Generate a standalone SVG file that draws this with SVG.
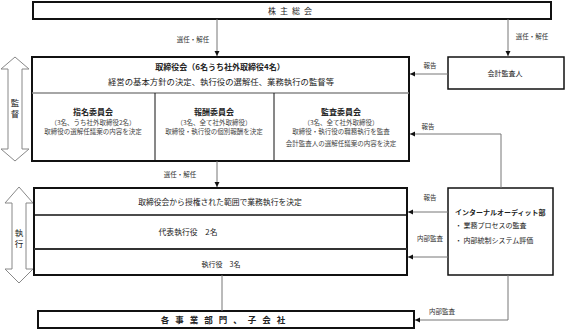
<svg xmlns="http://www.w3.org/2000/svg" width="567" height="331" viewBox="0 0 567 331">
<style>
text{font-family:"Noto Sans CJK JP","Noto Sans",sans-serif;fill:#222;}
.box{fill:#fff;stroke:#111;stroke-width:1.5;}
.thick{fill:#fff;stroke:#111;stroke-width:2;}
.lbl{font-size:6.5px;text-anchor:middle;fill:#333;}
.conn{fill:none;stroke:#777;stroke-width:1;}
.big{fill:#fff;stroke:#888;stroke-width:1;}
.sub{font-size:6.5px;text-anchor:middle;fill:#444;}
.h{font-size:8px;font-weight:bold;text-anchor:middle;}
</style>
<defs>
<marker id="ah" markerWidth="6" markerHeight="6" refX="5" refY="3" orient="auto" markerUnits="userSpaceOnUse">
<path d="M0,0.5 L5,3 L0,5.5 Z" fill="#111"/>
</marker>
</defs>

<g id="side-arrows">
<path class="big" d="M15,57 L29,69 L22,69 L22,149 L29,149 L15,161 L1,149 L8,149 L8,69 L1,69 Z"/>
<text x="15" y="106" font-size="8.5" text-anchor="middle">監</text>
<text x="15" y="117" font-size="8.5" text-anchor="middle">督</text>
<path class="big" d="M19,187 L33,203 L26,203 L26,269 L33,269 L19,283 L5,269 L12,269 L12,203 L5,203 Z"/>
<text x="19" y="236" font-size="8.5" text-anchor="middle">執</text>
<text x="19" y="247" font-size="8.5" text-anchor="middle">行</text>
</g>

<g id="shareholders">
<rect class="thick" x="33" y="2" width="518" height="17"/>
<text x="292" y="13.5" font-size="8" text-anchor="middle" letter-spacing="4">株主総会</text>
</g>

<g id="board">
<rect class="thick" x="32" y="57" width="377" height="104"/>
<text x="220" y="70" font-size="8" font-weight="bold" text-anchor="middle">取締役会（6名うち社外取締役4名）</text>
<text x="221" y="85" font-size="8.4" text-anchor="middle">経営の基本方針の決定、執行役の選解任、業務執行の監督等</text>
<line x1="32" y1="93" x2="409" y2="93" stroke="#888" stroke-width="1.5"/>
<line x1="155" y1="93" x2="155" y2="161" stroke="#111" stroke-width="1"/>
<line x1="274" y1="93" x2="274" y2="161" stroke="#111" stroke-width="1"/>
</g>

<g id="nomination">
<text class="h" x="93" y="115">指名委員会</text>
<text class="sub" x="93" y="125">（3名、うち社外取締役2名）</text>
<text class="sub" x="93" y="134">取締役の選解任議案の内容を決定</text>
</g>
<g id="compensation">
<text class="h" x="214" y="115">報酬委員会</text>
<text class="sub" x="214" y="125">（3名、全て社外取締役）</text>
<text class="sub" x="214" y="134">取締役・執行役の個別報酬を決定</text>
</g>
<g id="audit-committee">
<text class="h" x="341" y="115">監査委員会</text>
<text class="sub" x="341" y="125">（3名、全て社外取締役）</text>
<text class="sub" x="341" y="134">取締役・執行役の職務執行を監査</text>
<text class="sub" x="341" y="146">会計監査人の選解任議案の内容を決定</text>
</g>

<g id="auditor">
<rect class="box" x="448" y="57" width="116" height="32"/>
<text x="505" y="76" font-size="7" text-anchor="middle">会計監査人</text>
</g>

<g id="executive">
<rect class="thick" x="34" y="188" width="373" height="87"/>
<line x1="34" y1="215" x2="407" y2="215" stroke="#111" stroke-width="1.5"/>
<line x1="34" y1="249" x2="407" y2="249" stroke="#333" stroke-width="2"/>
<text x="220" y="205" font-size="7.8" text-anchor="middle">取締役会から授権された範囲で業務執行を決定</text>
<text x="188" y="235" font-size="7.8" text-anchor="middle">代表執行役　2名</text>
<text x="221" y="267" font-size="7" text-anchor="middle">執行役　3名</text>
</g>

<g id="internal-audit">
<rect class="box" x="448" y="188" width="105" height="87"/>
<text x="455" y="215" font-size="7" font-weight="bold">インターナルオーディット部</text>
<text x="455" y="228" font-size="7">・ 業務プロセスの監査</text>
<text x="455" y="243" font-size="7">・ 内部統制システム評価</text>
</g>

<g id="divisions">
<rect class="thick" x="38" y="311" width="376" height="17"/>
<text x="226" y="323" font-size="8.5" font-weight="bold" text-anchor="middle" letter-spacing="6">各事業部門、子会社</text>
</g>

<g id="connectors">
<line class="conn" x1="217" y1="19" x2="217" y2="56" marker-end="url(#ah)"/>
<line class="conn" x1="508" y1="19" x2="508" y2="56" marker-end="url(#ah)"/>
<line class="conn" x1="448" y1="74" x2="410" y2="74" marker-end="url(#ah)"/>
<polyline class="conn" points="501,188 501,134 410,134" marker-end="url(#ah)"/>
<line class="conn" x1="217" y1="161" x2="217" y2="187" marker-end="url(#ah)"/>
<line class="conn" x1="448" y1="212" x2="408" y2="212" marker-end="url(#ah)"/>
<line class="conn" x1="448" y1="257" x2="408" y2="257" marker-end="url(#ah)"/>
<line class="conn" x1="222" y1="275" x2="222" y2="311"/>
<polyline class="conn" points="508,275 508,320 415,320" marker-end="url(#ah)"/>
<text class="lbl" x="193" y="42">選任・解任</text>
<text class="lbl" x="532" y="39">選任・解任</text>
<text class="lbl" x="430" y="68">報告</text>
<text class="lbl" x="428" y="129">報告</text>
<text class="lbl" x="180" y="177">選任・解任</text>
<text class="lbl" x="430" y="200">報告</text>
<text class="lbl" x="430" y="241">内部監査</text>
<text class="lbl" x="442" y="314">内部監査</text>
</g>
</svg>
